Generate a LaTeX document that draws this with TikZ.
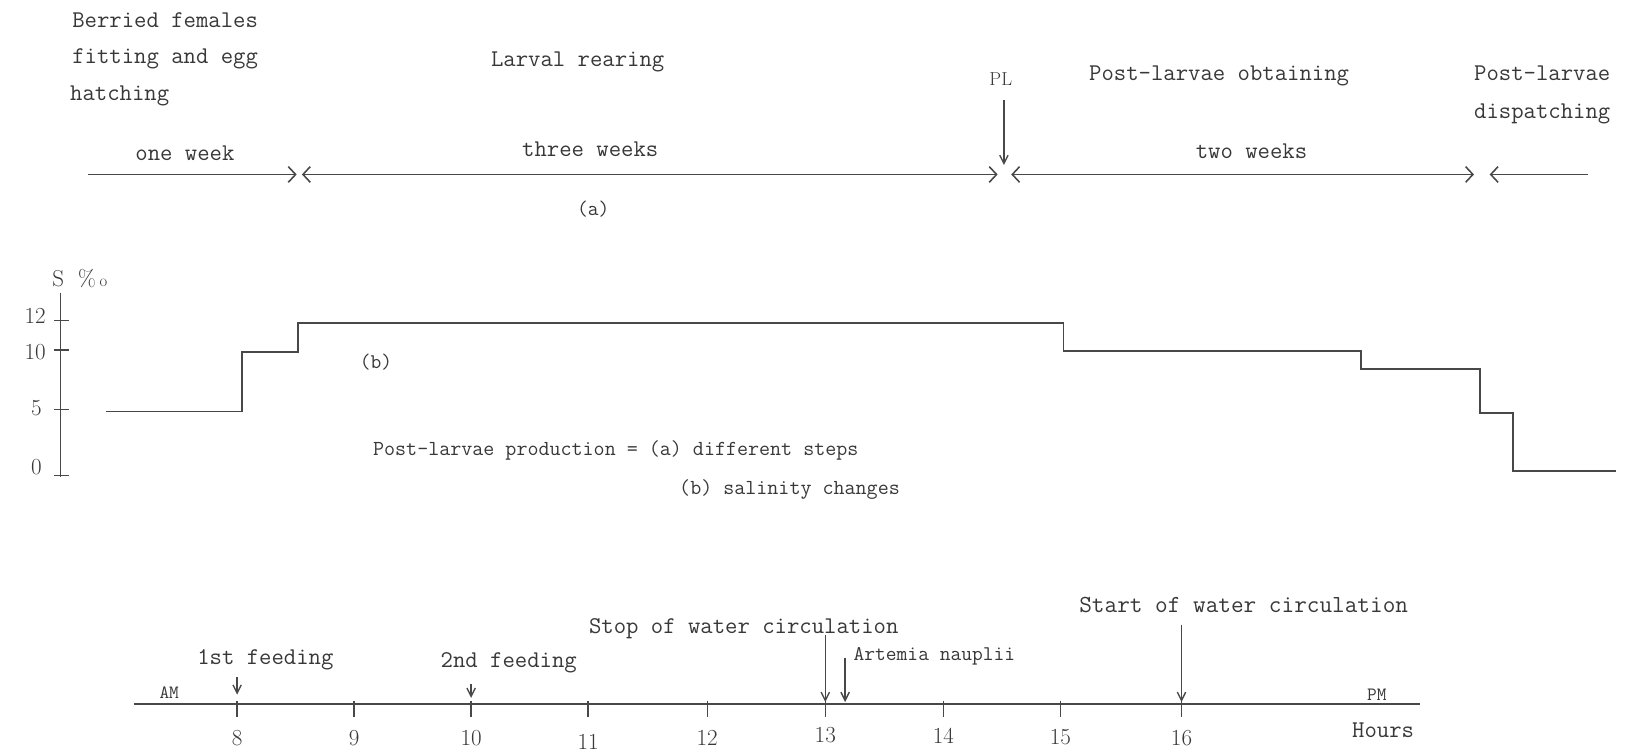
\documentclass[tikz,border=0pt]{standalone}
\usepackage{fontspec}
\usetikzlibrary{arrows.meta}
\definecolor{ink}{HTML}{383838}
\definecolor{linec}{HTML}{484848}
\begin{document}
\begin{tikzpicture}[x=1pt,y=-1pt,
  txt/.style={font=\ttfamily\fontsize{23}{27}\selectfont, text=ink, inner sep=0pt, anchor=base},
  txtw/.style={txt, anchor=base west},
  captxt/.style={txtw, font=\ttfamily\fontsize{20.5}{24}\selectfont},
  rmnum/.style={txt, font=\rmfamily\fontsize{22}{26}\selectfont},
  hline/.style={draw=linec, line width=1.7pt},
  thin/.style={draw=linec, line width=1.4pt},
  harrow/.style={hline, -{Straight Barb[length=7pt,width=15pt,line width=1.5pt]}},
  hdarrow/.style={hline, {Straight Barb[length=7pt,width=15pt,line width=1.5pt]}-{Straight Barb[length=7pt,width=15pt,line width=1.5pt]}},
  varrow/.style={thin, -{Straight Barb[length=8pt,width=8pt,line width=1.3pt]}}
]
\useasboundingbox (0,0) rectangle (1568,721);

% ---------- (a) top: steps ----------
\node[txtw] (berried) at (69,26) {Berried females};
\node[txtw] (fitting) at (69,61) {fitting and egg};
\node[txtw] (hatching) at (67,96) {hatching};
\node[txt] (larval) at (553,64) {Larval rearing};
\node[txt, font=\rmfamily\fontsize{18}{20}\selectfont] (pl) at (958,82) {PL};
\node[txt] (plobt) at (1167,77) {Post-larvae obtaining};
\node[txtw] (pld1) at (1411,77) {Post-larvae};
\node[txtw] (pld2) at (1411,113) {dispatching};
\node[txt] (oneweek) at (177,154) {one week};
\node[txt] (threeweeks) at (565,150) {three weeks};
\node[txt] (twoweeks) at (1198,152) {two weeks};
\node[txt, font=\ttfamily\fontsize{20}{24}\selectfont] (alabel) at (568,206) {(a)};

\coordinate (ow1) at (84,167);   \coordinate (ow2) at (284,167);
\coordinate (tw1) at (289,167);  \coordinate (tw2) at (955,167);
\coordinate (two1) at (968,167); \coordinate (two2) at (1411,167);
\coordinate (di1) at (1520,167); \coordinate (di2) at (1426,167);
\coordinate (pl1) at (961,96);   \coordinate (pl2) at (961,158);

\draw[harrow] (ow1) -- (ow2);
\draw[hdarrow] (tw1) -- (tw2);
\draw[hdarrow] (two1) -- (two2);
\draw[harrow] (di1) -- (di2);
\draw[varrow] (pl1) -- (pl2);

% ---------- (b) salinity ----------
\node[txtw, font=\rmfamily\fontsize{22}{26}\selectfont] (sunit) at (50,274) {S\ \ \%\,{\fontsize{16}{18}\selectfont o}};
\coordinate (axtop) at (58,280);
\coordinate (axbot) at (58,457);
\draw[thin] (axtop) -- (axbot);
\foreach \yy/\lab in {307/12, 335/10, 392/5, 455/0}{
  \draw[thin] (52,\yy) -- (66,\yy);
}
\node[rmnum, anchor=base east] (sl12) at (44,310) {12};
\node[rmnum, anchor=base east] (sl10) at (44,344) {10};
\node[rmnum, anchor=base east] (sl5) at (40,398) {5};
\node[rmnum, anchor=base east] (sl0) at (40,454) {0};

\coordinate (s0) at (101,394);
\coordinate (s9) at (1547,451);
\draw[hline, line join=miter] (s0) -- (232,394) -- (232,337) -- (285,337) -- (285,309)
  -- (1018,309) -- (1018,336) -- (1303,336) -- (1303,353) -- (1417,353)
  -- (1417,395) -- (1448,395) -- (1448,451) -- (s9);
\node[txt, font=\ttfamily\fontsize{20}{24}\selectfont] (blabel) at (360,353) {(b)};

\node[captxt] (cap1) at (357,436) {Post-larvae production = (a) different steps};
\node[captxt] (cap2) at (650,473) {(b) salinity changes};

% ---------- timeline ----------
\coordinate (tl1) at (128,674);
\coordinate (tl2) at (1359,674);
\draw[hline] (tl1) -- (tl2);
\foreach \xx/\lab/\dy in {227/8/0, 339/9/0, 451/10/0, 563/11/3, 677/12/0, 790/13/-3, 903/14/-2, 1015/15/-1, 1131/16/0}{
  \draw[thin] (\xx,671) -- (\xx,686);
  \node[rmnum] (h\lab) at (\xx,714+\dy) {\lab};
}
\node[txt, font=\ttfamily\fontsize{18}{20}\selectfont] (am) at (162,669) {AM};
\node[txt, font=\ttfamily\fontsize{18}{20}\selectfont] (pm) at (1318,671) {PM};
\node[txt] (hours) at (1324,706) {Hours};

\node[txt] (f1) at (254,636) {1st feeding};
\node[txt] (f2) at (487,639) {2nd feeding};
\node[txt] (stop) at (712,606) {Stop of water circulation};
\node[txtw, font=\ttfamily\fontsize{20}{24}\selectfont] (art) at (817,632) {Artemia nauplii};
\node[txtw, font=\ttfamily\fontsize{23.5}{27}\selectfont] (start) at (1033,586) {Start of water circulation};

\coordinate (a1s) at (227,648);  \coordinate (a1e) at (227,665);
\coordinate (a2s) at (451,655);  \coordinate (a2e) at (451,668);
\coordinate (a3s) at (790,608);  \coordinate (a3e) at (790,672);
\coordinate (a4s) at (809,630);  \coordinate (a4e) at (809,672);
\coordinate (a5s) at (1131,598); \coordinate (a5e) at (1131,672);
\draw[varrow] (a1s) -- (a1e);
\draw[varrow] (a2s) -- (a2e);
\draw[varrow] (a3s) -- (a3e);
\draw[varrow] (a4s) -- (a4e);
\draw[varrow] (a5s) -- (a5e);
\end{tikzpicture}
\end{document}
